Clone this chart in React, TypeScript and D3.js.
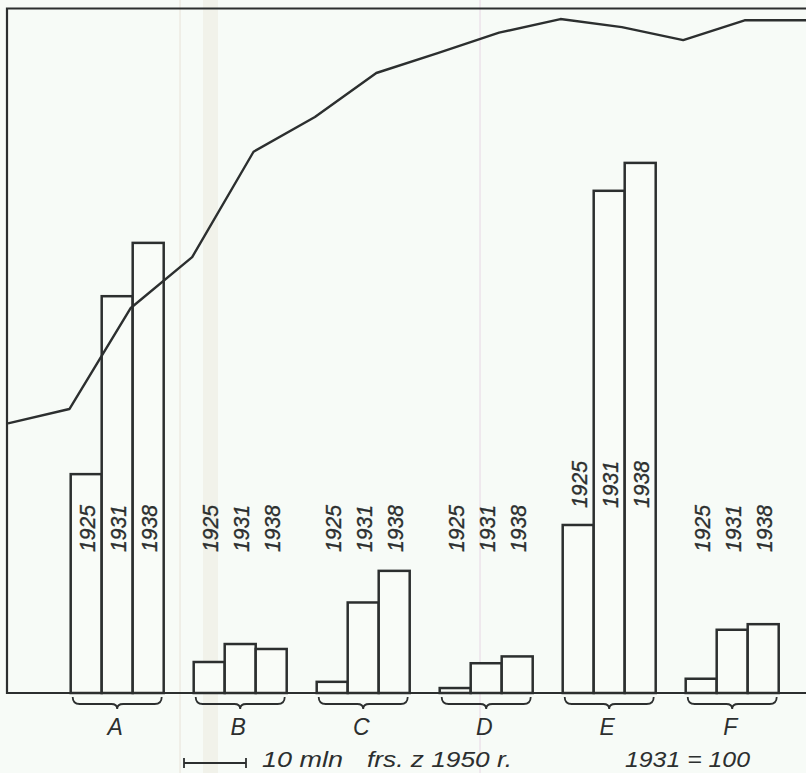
import React from 'react';
import * as d3 from 'd3';

const groups = ['A', 'B', 'C', 'D', 'E', 'F'];
const barYears = ['1925', '1931', '1938'];
const values1925 = [35.3, 5.0, 1.8, 0.8, 27.1, 2.3];
const values1931 = [64.0, 7.9, 14.6, 4.8, 81.0, 10.2];
const values1938 = [72.6, 7.1, 19.7, 5.9, 85.5, 11.1];
const indexYears = [1925, 1926, 1927, 1928, 1929, 1930, 1931, 1932, 1933, 1934, 1935, 1936, 1937, 1938];
const indexValues = [43.5, 45.8, 62.1, 70.3, 87.3, 92.9, 100, 103.2, 106.5, 108.7, 107.4, 105.3, 108.5, 108.5];
const scaleUnit = 10;
const scaleLabelA = '10 mln';
const scaleLabelB = 'frs. z 1950 r.';
const indexLabel = '1931 = 100';

const W = 806;
const H = 773;
const INK = '#2c2f2f';
const FONT = '"Liberation Sans", Arial, sans-serif';

export default function App() {
  const base = 693;
  const y = d3.scaleLinear().domain([0, 100]).range([base, 73]);
  const gx = d3.scaleBand<string>().domain(groups).range([70.7, 778.7]).paddingInner(30 / 123).paddingOuter(0);
  const bx = d3.scaleBand<string>().domain(barYears).range([0, gx.bandwidth()]).padding(0);
  const lx = d3.scalePoint<number>().domain(indexYears).range([8, 806]);
  const line = d3.line<number>().x((d, i) => lx(indexYears[i]) as number).y((d) => y(d));
  const series = [values1925, values1931, values1938];
  const unitPx = y(0) - y(scaleUnit);

  const bracePath = (x0: number, x1: number) => {
    const cx = (x0 + x1) / 2;
    const t = 697, m = 704, b = 709;
    return `M${x0},${t} Q${x0},${m} ${x0 + 7},${m} L${cx - 6},${m} Q${cx},${m} ${cx},${b} Q${cx},${m} ${cx + 6},${m} L${x1 - 7},${m} Q${x1},${m} ${x1},${t}`;
  };

  return (
    <svg width={W} height={H} style={{ position: 'absolute', left: 0, top: 0 }} xmlns="http://www.w3.org/2000/svg">
      <rect x={0} y={0} width={W} height={H} fill="#f7fbf7" />
      <rect x={203} y={0} width={15} height={H} fill="#e6dfcc" opacity={0.3} />
      <line x1={180} y1={0} x2={180} y2={H} stroke="#e8e2d8" strokeWidth={1} />
      <line x1={480} y1={0} x2={480} y2={H} stroke="#e7d6e4" strokeWidth={1} />

      {/* frame */}
      <path d={`M${W},8.5 L7,8.5 L7,${base} L${W},${base}`} fill="none" stroke={INK} strokeWidth={2.2} />

      {/* bars */}
      {groups.map((g, gi) => (
        <g key={g} transform={`translate(${gx(g)},0)`}>
          {barYears.map((yr, yi) => {
            const v = series[yi][gi];
            return (
              <rect key={yr} x={bx(yr)} y={y(v)} width={bx.bandwidth()} height={base - y(v)}
                fill="#f9fcf8" stroke={INK} strokeWidth={2.5} />
            );
          })}
        </g>
      ))}

      {/* index line */}
      <path d={line(indexValues) || ''} fill="none" stroke={INK} strokeWidth={2.4} strokeLinejoin="round" />

      {/* year labels */}
      {groups.map((g) => {
        const bottom = g === 'E' ? 508 : 552;
        return barYears.map((yr) => {
          const cx = (gx(g) as number) + (bx(yr) as number) + bx.bandwidth() / 2;
          return (
            <text key={g + yr} transform={`translate(${cx + 9},${bottom}) rotate(-90)`}
              fontFamily={FONT} fontStyle="italic" fontSize={22} fill={INK} stroke={INK} strokeWidth={0.35}
              textLength={47} lengthAdjust="spacingAndGlyphs">
              {yr}
            </text>
          );
        });
      })}

      {/* braces and group letters */}
      {groups.map((g) => {
        const x0 = (gx(g) as number) + 2;
        const x1 = (gx(g) as number) + gx.bandwidth() - 2;
        return (
          <g key={'b' + g}>
            <path d={bracePath(x0, x1)} fill="none" stroke={INK} strokeWidth={1.8} />
            <text x={(x0 + x1) / 2 - 2} y={735} textAnchor="middle" fontFamily={FONT} fontStyle="italic" fontSize={23} fill={INK}>
              {g}
            </text>
          </g>
        );
      })}

      {/* scale bar */}
      <g stroke={INK} strokeWidth={1.8}>
        <line x1={184} y1={763} x2={184 + unitPx} y2={763} />
        <line x1={184} y1={758} x2={184} y2={768} />
        <line x1={184 + unitPx} y1={758} x2={184 + unitPx} y2={768} />
      </g>
      <text x={262} y={767} fontFamily={FONT} fontStyle="italic" fontSize={22} fill={INK} textLength={81} lengthAdjust="spacingAndGlyphs">
        {scaleLabelA}
      </text>
      <text x={367} y={767} fontFamily={FONT} fontStyle="italic" fontSize={22} fill={INK} textLength={145} lengthAdjust="spacingAndGlyphs">
        {scaleLabelB}
      </text>
      <text x={625} y={767} fontFamily={FONT} fontStyle="italic" fontSize={22} fill={INK} textLength={125} lengthAdjust="spacingAndGlyphs" style={{ whiteSpace: 'pre' }}>
        {indexLabel}
      </text>
    </svg>
  );
}
